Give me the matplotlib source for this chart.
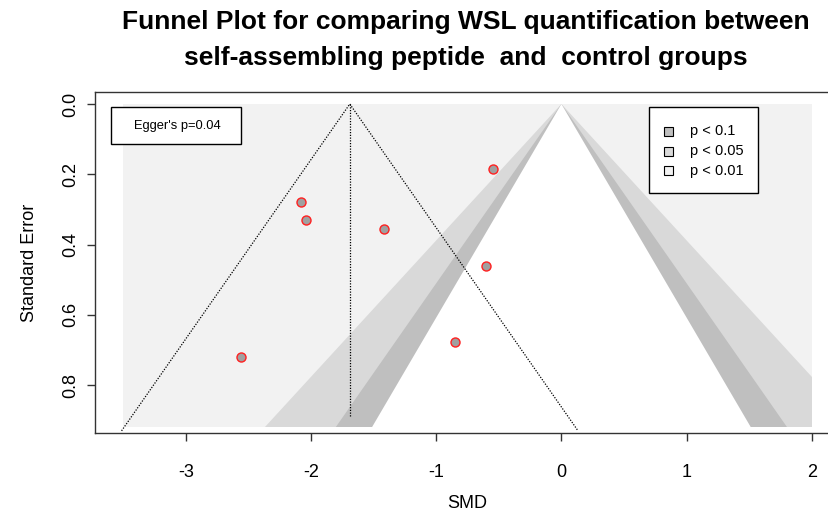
import numpy as np
import matplotlib
matplotlib.use("Agg")
import matplotlib.pyplot as plt
from matplotlib.patches import Polygon, Rectangle

plt.rcParams['font.family'] = ['Liberation Sans', 'DejaVu Sans']

smd = [-2.08, -2.04, -1.42, -0.55, -0.60, -0.85, -2.56]
se = [0.280, 0.329, 0.356, 0.186, 0.461, 0.678, 0.720]
pooled = -1.69
egger_p = "0.04"

# contour levels and their shades
z_vals = [2.576, 1.96, 1.645]
shades = ["#F2F2F2", "#D9D9D9", "#BFBFBF"]
leg_labels = ["p < 0.1", "p < 0.05", "p < 0.01"]
leg_cols = ["#BFBFBF", "#D9D9D9", "#F2F2F2"]

x_range = [-3.5, 2.0]
se_bottom = 0.92
se_ci = 0.93
se_ref = 0.89

fig = plt.figure(figsize=(8.29, 5.13), dpi=100)
ax = fig.add_axes([95 / 829, (513 - 433.3) / 513, 745 / 829, 341.6 / 513])

# shaded contour regions, clipped to the plotted range
clip = Rectangle((x_range[0], 0), x_range[1] - x_range[0], se_bottom,
                 transform=ax.transData)
ax.add_patch(Rectangle((x_range[0], 0), x_range[1] - x_range[0], se_bottom,
                       facecolor=shades[0], edgecolor='none', zorder=1))
fills = [(z_vals[0], shades[1]), (z_vals[1], shades[2]), (z_vals[2], 'white')]
for z, col in fills:
    tri = Polygon([(0, 0), (z * se_bottom, se_bottom), (-z * se_bottom, se_bottom)],
                  closed=True, facecolor=col, edgecolor='none', zorder=2)
    ax.add_patch(tri)
    tri.set_clip_path(clip)

# pseudo confidence region around the pooled estimate
ax.plot([pooled - 1.96 * se_ci, pooled, pooled + 1.96 * se_ci], [se_ci, 0, se_ci],
        color='black', linestyle=(0, (1, 1.2)), linewidth=0.9, zorder=3)
ax.plot([pooled, pooled], [0, se_ref], color='black', linestyle=(0, (1, 1.2)),
        linewidth=0.9, zorder=3)

ax.plot(smd, se, linestyle='none', marker='o', markersize=6.5,
        markerfacecolor='#A0A0A0', markeredgecolor='#FF2020', markeredgewidth=1,
        zorder=4)

ax.set_xlim(-3.725, 2.225)
ax.set_ylim(0.937, -0.035)
ax.set_xticks([-3, -2, -1, 0, 1, 2])
ax.set_xticklabels(['-3', '-2', '-1', '0', '1', '2'])
ax.set_yticks([0.0, 0.2, 0.4, 0.6, 0.8])
ax.set_yticklabels(['0.0', '0.2', '0.4', '0.6', '0.8'], rotation=90, va='center')
ax.tick_params(axis='both', length=6, width=1, labelsize=13, color='#333333')
ax.tick_params(axis='x', pad=16)
ax.tick_params(axis='y', pad=5)
for s in ax.spines.values():
    s.set_linewidth(1)
    s.set_color('#333333')

ax.set_xlabel('SMD', fontsize=13, labelpad=10)
ax.set_ylabel('Standard Error', fontsize=13, labelpad=18)

# Egger's test box
ax.add_patch(Rectangle(((110.7 - 95) / 745, (433.3 - 144) / 341.6), 130.3 / 745, 37 / 341.6,
                       transform=ax.transAxes, facecolor='white', edgecolor='black',
                       linewidth=1, zorder=5))
ax.text((177 - 95) / 745, (433.3 - 126) / 341.6, "Egger's p=" + egger_p,
        transform=ax.transAxes, ha='center', va='center', fontsize=9.3, zorder=6)

# contour legend
ax.add_patch(Rectangle(((649 - 95) / 745, (433.3 - 193) / 341.6), 109 / 745, 86 / 341.6,
                       transform=ax.transAxes, facecolor='white', edgecolor='black',
                       linewidth=1, zorder=5))
for i, (lab, col) in enumerate(zip(leg_labels, leg_cols)):
    yc = 131.5 + i * 19.5
    ax.add_patch(Rectangle(((664 - 95) / 745, (433.3 - yc - 4.5) / 341.6), 9 / 745, 9 / 341.6,
                           transform=ax.transAxes, facecolor=col, edgecolor='black',
                           linewidth=0.8, zorder=6))
    ax.text((690 - 95) / 745, (433.3 - yc) / 341.6, lab, transform=ax.transAxes,
            ha='left', va='center', fontsize=10.5, zorder=6)

fig.text(466 / 829, 1 - 40 / 513,
         "Funnel Plot for comparing WSL quantification between\nself-assembling peptide  and  control groups",
         ha='center', va='center', fontsize=19, fontweight='bold', linespacing=1.6)

fig.savefig('out.png', dpi=100)
